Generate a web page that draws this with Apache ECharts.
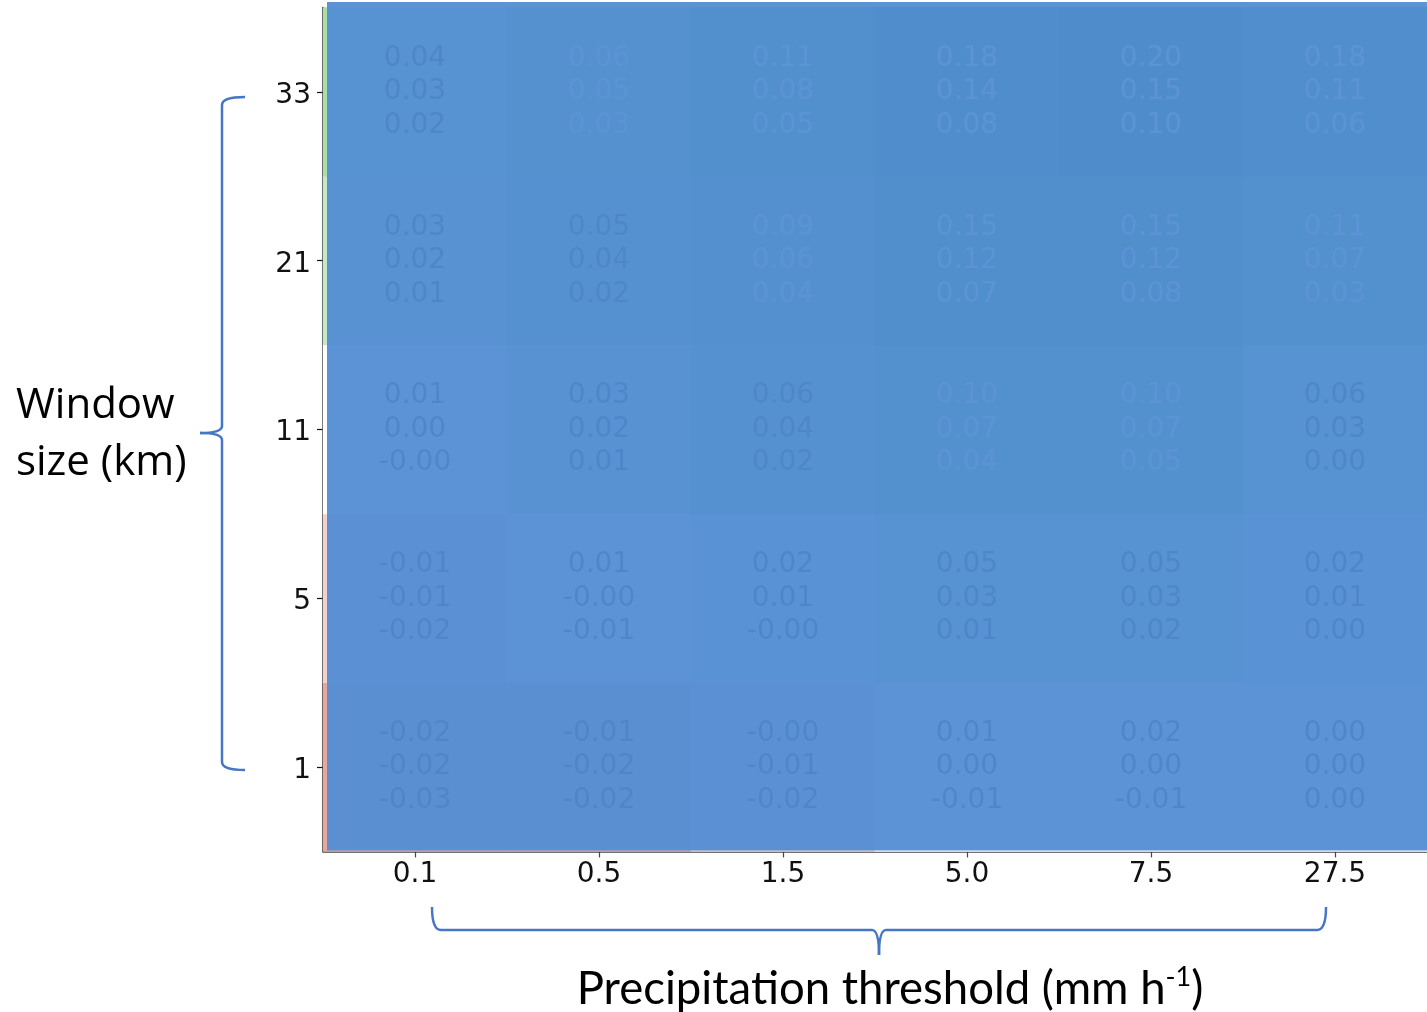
<!DOCTYPE html>
<html>
<head>
<meta charset="utf-8">
<script src="https://cdn.jsdelivr.net/npm/echarts@6/dist/echarts.min.js"></script>
<style>
  html, body { margin: 0; padding: 0; background: #ffffff; }
  #chart { width: 1427px; height: 1012px; }
</style>
</head>
<body>
<div id="chart"></div>
<script>
// Precipitation thresholds (mm h-1) — x categories
const thresholds = ['0.1', '0.5', '1.5', '5.0', '7.5', '27.5'];
// Window sizes (km) — y categories, bottom to top
const windowSizes = ['1', '5', '11', '21', '33'];

// Three annotated values per cell (top / middle / bottom line), one row per window size
// (-0.001 stands for a value printed as "-0.00")
const topValues = [
  [-0.02, -0.01, -0.001, 0.01, 0.02, 0.00],   // 1 km
  [-0.01,  0.01,  0.02,  0.05, 0.05, 0.02],   // 5 km
  [ 0.01,  0.03,  0.06,  0.10, 0.10, 0.06],   // 11 km
  [ 0.03,  0.05,  0.09,  0.15, 0.15, 0.11],   // 21 km
  [ 0.04,  0.06,  0.11,  0.18, 0.20, 0.18]    // 33 km
];
const midValues = [
  [-0.02, -0.02, -0.01,  0.00, 0.00, 0.00],
  [-0.01, -0.001, 0.01,  0.03, 0.03, 0.01],
  [ 0.00,  0.02,  0.04,  0.07, 0.07, 0.03],
  [ 0.02,  0.04,  0.06,  0.12, 0.12, 0.07],
  [ 0.03,  0.05,  0.08,  0.14, 0.15, 0.11]
];
const botValues = [
  [-0.03, -0.02, -0.02, -0.01, -0.01, 0.00],
  [-0.02, -0.01, -0.001, 0.01,  0.02, 0.00],
  [-0.001, 0.01,  0.02,  0.04,  0.05, 0.00],
  [ 0.01,  0.02,  0.04,  0.07,  0.08, 0.03],
  [ 0.02,  0.03,  0.05,  0.08,  0.10, 0.06]
];

const data = [];
windowSizes.forEach(function (ws, yi) {
  thresholds.forEach(function (th, xi) {
    const mid = midValues[yi][xi];
    data.push({
      value: [xi, yi, mid, topValues[yi][xi], botValues[yi][xi]],
      label: { color: mid >= 0.05 ? '#ffffff' : '#000000' }
    });
  });
});

const chart = echarts.init(document.getElementById('chart'), null, { renderer: 'canvas' });

const option = {
  backgroundColor: '#ffffff',
  animation: false,
  grid: { left: 323, top: 7.6, width: 1111.6, height: 843.8, containLabel: false },
  xAxis: {
    type: 'category',
    data: thresholds,
    axisLine: { show: true, lineStyle: { color: '#444444', width: 1.5 } },
    axisTick: { show: true, alignWithLabel: true, length: 6, lineStyle: { color: '#444444', width: 1.2 } },
    axisLabel: { fontFamily: 'DejaVu Sans', fontSize: 28, color: '#111111', margin: 9 },
    splitLine: { show: false },
    splitArea: { show: false }
  },
  yAxis: {
    type: 'category',
    data: windowSizes,
    axisLine: { show: true, lineStyle: { color: '#111111', width: 1.5 } },
    axisTick: { show: true, alignWithLabel: true, length: 6, lineStyle: { color: '#111111', width: 1.2 } },
    axisLabel: {
      margin: 12,
      formatter: '{a|{value}}',
      rich: { a: { fontFamily: 'DejaVu Sans', fontSize: 28, color: '#111111', padding: [7, 0, 0, 0] } }
    },
    splitLine: { show: false },
    splitArea: { show: false }
  },
  visualMap: {
    show: false,
    type: 'continuous',
    dimension: 2,
    min: -0.04,
    max: 0.2,
    inRange: { color: ['#c8503c', '#ffffff', '#8fd18a', '#55b05a', '#2f9445', '#1b7837', '#0e5a2a'] }
  },
  series: [{
    type: 'heatmap',
    data: data,
    itemStyle: { borderWidth: 0 },
    emphasis: { disabled: true },
    label: {
      show: true,
      fontFamily: 'DejaVu Sans',
      fontSize: 28,
      lineHeight: 33.5,
      align: 'center',
      formatter: function (p) {
        return p.value[3].toFixed(2) + '\n' + p.value[2].toFixed(2) + '\n' + p.value[4].toFixed(2);
      }
    }
  }]
};
chart.setOption(option);

// Blue overlay and annotations, positioned from the grid cells
const c00 = chart.convertToPixel({ gridIndex: 0 }, [0, 0]);
const c11 = chart.convertToPixel({ gridIndex: 0 }, [1, 1]);
const cw = c11[0] - c00[0];
const ch = c00[1] - c11[1];
const gridLeft = c00[0] - cw / 2;
const gridBottom = c00[1] + ch / 2;
const gridTop = gridBottom - ch * windowSizes.length;
const gridRight = gridLeft + cw * thresholds.length;

const braceColor = '#4676c6';
const braceStyle = { fill: null, stroke: braceColor, lineWidth: 2.5 };

function seg(x1, y1, x2, y2) {
  return { type: 'line', z: 100, silent: true, shape: { x1: x1, y1: y1, x2: x2, y2: y2 }, style: braceStyle };
}
function curve(x1, y1, cx, cy, x2, y2) {
  return { type: 'bezierCurve', z: 100, silent: true, shape: { x1: x1, y1: y1, cpx1: cx, cpy1: cy, x2: x2, y2: y2 }, style: braceStyle };
}

const graphics = [
  {
    type: 'rect',
    z: 100,
    silent: true,
    shape: { x: gridLeft + 4, y: gridTop - 5.6, width: gridRight - gridLeft, height: gridBottom - gridTop + 4.6 },
    style: { fill: 'rgba(82,141,212,0.95)' }
  },
  // left curly brace
  curve(245, 97, 222, 97, 222, 105),
  seg(222, 105, 222, 426),
  curve(222, 426, 222, 433, 200, 433),
  curve(200, 433, 222, 433, 222, 440),
  seg(222, 440, 222, 762),
  curve(222, 762, 222, 770, 245, 770),
  // bottom curly brace
  curve(432, 907, 432, 930, 441, 930),
  seg(441, 930, 872, 930),
  curve(872, 930, 879, 930, 879, 955),
  curve(879, 955, 879, 930, 886, 930),
  seg(886, 930, 1317, 930),
  curve(1317, 930, 1326, 930, 1326, 907),
  {
    type: 'text',
    z: 100,
    silent: true,
    style: {
      x: 16,
      y: 378,
      text: 'Window\nsize (km)',
      fontFamily: 'Open Sans',
      fontSize: 42,
      lineHeight: 57,
      fill: '#000000'
    }
  },
  {
    type: 'text',
    z: 100,
    silent: true,
    style: {
      x: 890,
      y: 988,
      align: 'center',
      verticalAlign: 'middle',
      text: '{a|Precipitation threshold (mm h}{s|-1}{a|)}',
      rich: {
        a: { fontFamily: 'Lato', fontSize: 45.5, fill: '#000000', verticalAlign: 'bottom' },
        s: { fontFamily: 'Lato', fontSize: 27, fill: '#000000', verticalAlign: 'top', padding: [0, 0, 22, 0] }
      }
    }
  }
];

chart.setOption({ graphic: graphics });
</script>
</body>
</html>
